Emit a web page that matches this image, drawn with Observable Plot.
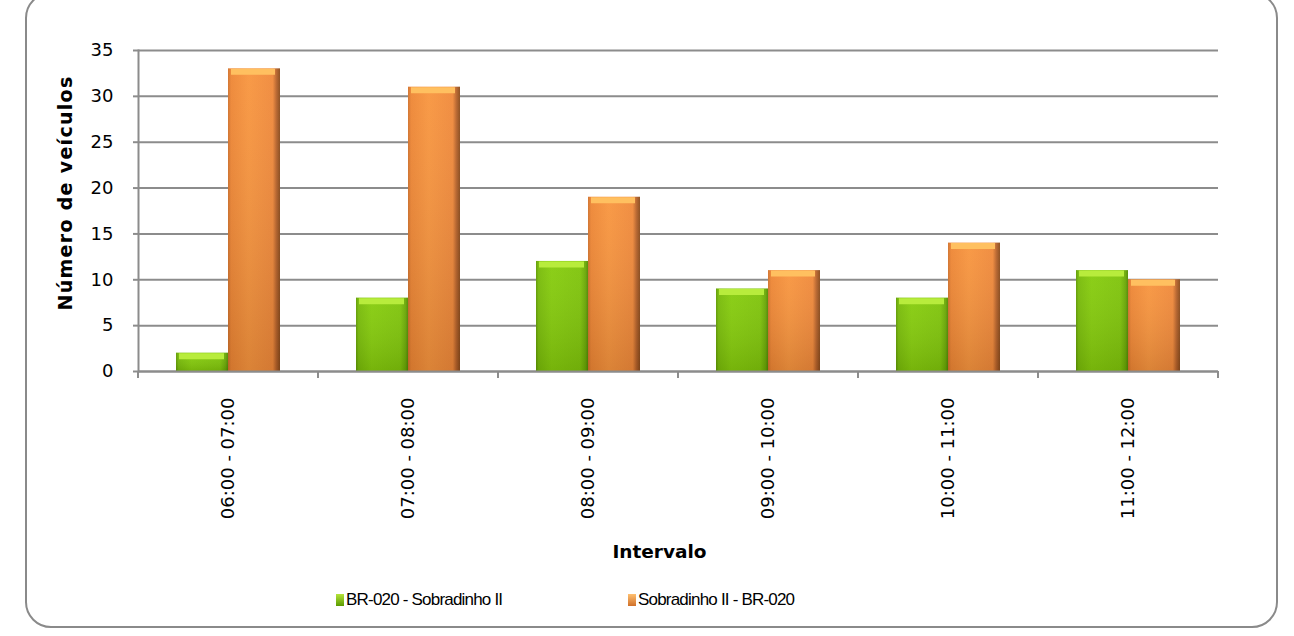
<!DOCTYPE html>
<html>
<head>
<meta charset="utf-8">
<script src="https://cdn.jsdelivr.net/npm/d3@7"></script>
<script src="https://cdn.jsdelivr.net/npm/@observablehq/plot@0.6"></script>
<style>
  html, body { margin: 0; padding: 0; background: #fff; overflow: hidden; }
  #wrap { position: relative; width: 1294px; height: 636px; font-family: "DejaVu Sans", sans-serif; }
  #frame { position: absolute; left: 25px; top: -8px; width: 1253px; height: 636px; border: 2px solid #8a8a8a; border-radius: 26px; box-sizing: border-box; pointer-events: none; }
  #chart { position: absolute; left: 0; top: 0; }
  #legend { position: absolute; left: 0; top: 588px; width: 1294px; height: 24px; font-family: "Liberation Sans", Arial, sans-serif; font-size: 17px; letter-spacing: -0.8px; color: #000; }
  .item { position: absolute; top: 0; display: flex; align-items: center; height: 24px; white-space: nowrap; }
  .sw { width: 8px; height: 12px; margin-right: 2px; }
</style>
</head>
<body>
<svg width="0" height="0" style="position:absolute">
  <defs>
    <linearGradient id="gGreen" x1="0" x2="1" y1="0" y2="0">
      <stop offset="0" stop-color="#5f9a00"/>
      <stop offset="0.05" stop-color="#78bb08"/>
      <stop offset="0.3" stop-color="#86cc0c"/>
      <stop offset="0.85" stop-color="#7fc40a"/>
      <stop offset="0.95" stop-color="#6aa805"/>
      <stop offset="1" stop-color="#4f8a02"/>
    </linearGradient>
    <linearGradient id="gOrange" x1="0" x2="1" y1="0" y2="0">
      <stop offset="0" stop-color="#d0702a"/>
      <stop offset="0.06" stop-color="#ee8634"/>
      <stop offset="0.4" stop-color="#f8953e"/>
      <stop offset="0.86" stop-color="#f0893a"/>
      <stop offset="0.93" stop-color="#b8632a"/>
      <stop offset="1" stop-color="#8a4a1a"/>
    </linearGradient>
    <linearGradient id="gShade" x1="0" x2="0" y1="0" y2="1">
      <stop offset="0" stop-color="#ffffff" stop-opacity="0.05"/>
      <stop offset="1" stop-color="#000000" stop-opacity="0.12"/>
    </linearGradient>
    <linearGradient id="lgGreen" x1="0" x2="0" y1="0" y2="1">
      <stop offset="0" stop-color="#b5e43a"/>
      <stop offset="1" stop-color="#5a9a00"/>
    </linearGradient>
    <linearGradient id="lgOrange" x1="0" x2="0" y1="0" y2="1">
      <stop offset="0" stop-color="#ffc070"/>
      <stop offset="1" stop-color="#d0702a"/>
    </linearGradient>
  </defs>
</svg>
<div id="wrap">
  <div id="chart"></div>
  <div id="legend"></div>
  <div id="frame"></div>
</div>
<script>
const categories = ["06:00 - 07:00", "07:00 - 08:00", "08:00 - 09:00", "09:00 - 10:00", "10:00 - 11:00", "11:00 - 12:00"];
const seriesNames = ["BR-020 - Sobradinho II", "Sobradinho II - BR-020"];
const greenValues = [2, 8, 12, 9, 8, 11];
const orangeValues = [33, 31, 19, 11, 14, 10];
const yTicks = [0, 5, 10, 15, 20, 25, 30, 35];

const data = categories.flatMap((c, i) => [
  {interval: c, series: seriesNames[0], value: greenValues[i]},
  {interval: c, series: seriesNames[1], value: orangeValues[i]}
]);

const isG = d => d.series === seriesNames[0];
const isO = d => d.series === seriesNames[1];
const gridColor = "#8c8c8c";

const plot = Plot.plot({
  width: 1294,
  height: 580,
  marginLeft: 135,
  marginRight: 74,
  marginTop: 50,
  marginBottom: 209,
  style: {fontFamily: "DejaVu Sans, sans-serif", fontSize: "18px", color: "#000", background: "transparent"},
  fx: {domain: categories, padding: 0},
  x: {domain: seriesNames, paddingInner: 0, paddingOuter: 0.705, axis: null},
  y: {domain: [0, 35]},
  marks: [
    Plot.gridY(yTicks, {stroke: gridColor, strokeOpacity: 1, strokeWidth: 2}),
    Plot.barY(data, {filter: isG, fx: "interval", x: "series", y: "value", fill: "url(#gGreen)"}),
    Plot.barY(data, {filter: isO, fx: "interval", x: "series", y: "value", fill: "url(#gOrange)"}),
    Plot.barY(data, {fx: "interval", x: "series", y: "value", fill: "url(#gShade)"}),
    Plot.tickY(data, {filter: isG, fx: "interval", x: "series", y: "value", stroke: "#b8ec3c", strokeWidth: 6, dy: 3, insetLeft: 3, insetRight: 4}),
    Plot.tickY(data, {filter: isO, fx: "interval", x: "series", y: "value", stroke: "#ffc060", strokeWidth: 6, dy: 3, insetLeft: 3, insetRight: 5}),
    Plot.ruleY([0], {stroke: gridColor, strokeWidth: 2}),
    Plot.frame({anchor: "left", facetAnchor: "left", stroke: gridColor, strokeWidth: 2}),
    Plot.axisY({ticks: yTicks, tickSize: 5, tickPadding: 20, stroke: gridColor, strokeWidth: 2, fontSize: 18,
      label: "Número de veículos", labelAnchor: "center", labelArrow: "none", labelOffset: 80}),
    Plot.axisFx({anchor: "bottom", tickRotate: -90, tickSize: 0, tickPadding: 26, fontSize: 18,
      label: "Intervalo", labelAnchor: "center", labelArrow: "none", labelOffset: 186})
  ]
});

// boundary ticks between categories, positioned from the plot's own scales
const fx = plot.scale("fx");
const ys = plot.scale("y");
const y0 = ys.apply(0);
const bounds = categories.map(c => fx.apply(c)).concat([fx.apply(categories[categories.length - 1]) + fx.bandwidth]);
d3.select(plot).append("g")
  .attr("stroke", gridColor).attr("stroke-width", 2)
  .selectAll("line").data(bounds).join("line")
  .attr("x1", d => d).attr("x2", d => d)
  .attr("y1", y0).attr("y2", y0 + 7);

// bold axis titles
d3.select(plot).selectAll("[aria-label='y-axis label'] text")
  .attr("font-weight", "bold").attr("font-size", 19).attr("letter-spacing", "1.3px").attr("dx", 18);
d3.select(plot).selectAll("[aria-label='fx-axis label'] text")
  .attr("font-weight", "bold").attr("font-size", 18.5).attr("dx", -19);

document.getElementById("chart").appendChild(plot);

// legend
const legend = d3.select("#legend");
const legendX = [336, 628];
const legendFills = ["url(#lgGreen)", "url(#lgOrange)"];
seriesNames.forEach((s, i) => {
  const it = legend.append("div").attr("class", "item").style("left", legendX[i] + "px");
  it.append("svg").attr("class", "sw").attr("width", 8).attr("height", 12)
    .append("rect").attr("width", 8).attr("height", 12).attr("fill", legendFills[i]);
  it.append("span").text(s);
});
</script>
</body>
</html>
